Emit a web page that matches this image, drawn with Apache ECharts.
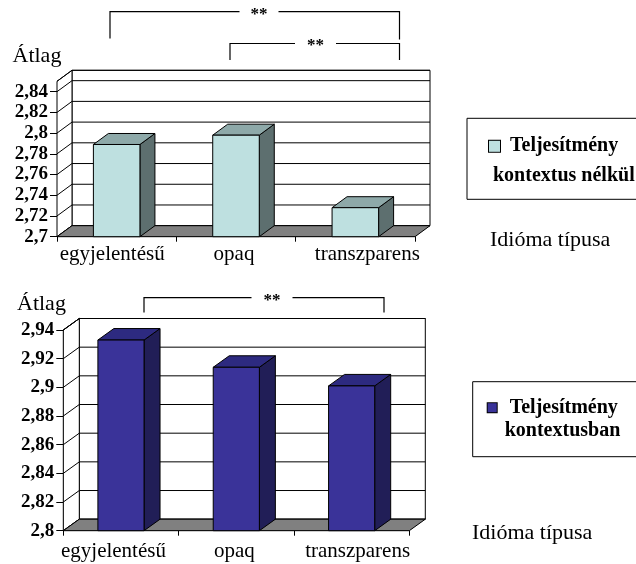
<!DOCTYPE html>
<html>
<head>
<meta charset="utf-8">
<script src="https://cdn.jsdelivr.net/npm/echarts@6/dist/echarts.min.js"></script>
<style>
  html, body { margin: 0; padding: 0; background: #fff; }
  #chart { width: 636px; height: 564px; }
</style>
</head>
<body>
<div id="chart"></div>
<script>
// ---- data ----
const categories = ['egyjelentésű', 'opaq', 'transzparens'];
const withoutContext = [2.789, 2.798, 2.728];
const inContext = [2.933, 2.914, 2.901];
const topTicks = [2.7, 2.72, 2.74, 2.76, 2.78, 2.8, 2.82, 2.84];
const bottomTicks = [2.8, 2.82, 2.84, 2.86, 2.88, 2.9, 2.92, 2.94];
const topRange = [2.7, 2.85];
const bottomRange = [2.8, 2.94];
const seriesNames = ['Teljesítmény kontextus nélkül', 'Teljesítmény kontextusban'];
const valueTitle = 'Átlag';
const categoryTitle = 'Idióma típusa';
const significance = '**';

// ---- styling ----
const FONT = "'Liberation Serif', 'Times New Roman', 'DejaVu Serif', serif";
const panels = [
  {
    grid: { left: 57, top: 81.3, width: 358, height: 155.4 },
    depth: [15, -11], range: topRange, ticks: topTicks, values: withoutContext,
    name: seriesNames[0], barRatio: 0.39, catMargin: 7, labelShift: [-4.5, -2, 12],
    colors: { front: '#BEE0E0', top: '#8EA9A9', side: '#5D6F6F' },
    legend: { left: 467, top: 118.3, padding: [13, 30, 8, 17], lineHeight: 30,
              marker: 11, gap: 10, indent: 4 }
  },
  {
    grid: { left: 63.3, top: 330, width: 346, height: 200.7 },
    depth: [16, -11.5], range: bottomRange, ticks: bottomTicks, values: inContext,
    name: seriesNames[1], barRatio: 0.40, catMargin: 10, labelShift: [-7.5, -2, 6],
    colors: { front: '#3A3399', top: '#2D2A80', side: '#211E57' },
    legend: { left: 472.7, top: 381.7, padding: [14.5, 30, 14.5, 10], lineHeight: 23,
              marker: 9, gap: 13, indent: 17 }
  }
];

const LINE = { stroke: '#000', lineWidth: 1 };

// back wall and left side wall
function wallsItem(p) {
  const [dx, dy] = p.depth;
  return function (params, api) {
    const cs = params.coordSys;
    const L = cs.x, R = cs.x + cs.width;
    const y0 = api.coord([0, p.range[0]])[1];
    const y1 = api.coord([0, p.range[1]])[1];
    return {
      type: 'group',
      children: [
        { type: 'polygon', shape: { points: [[L + dx, y1 + dy], [R + dx, y1 + dy], [R + dx, y0 + dy], [L + dx, y0 + dy]] },
          style: Object.assign({ fill: '#fff' }, LINE) },
        { type: 'polygon', shape: { points: [[L, y1], [L + dx, y1 + dy], [L + dx, y0 + dy], [L, y0]] },
          style: Object.assign({ fill: '#fff' }, LINE) }
      ]
    };
  };
}

// one gridline per tick: across the back wall plus the diagonal on the side wall
function gridLineItem(p) {
  const [dx, dy] = p.depth;
  return function (params, api) {
    const cs = params.coordSys;
    const L = cs.x, R = cs.x + cs.width;
    const y = api.coord([0, api.value(1)])[1];
    return {
      type: 'group',
      children: [
        { type: 'line', shape: { x1: L + dx, y1: y + dy, x2: R + dx, y2: y + dy }, style: LINE },
        { type: 'line', shape: { x1: L, y1: y, x2: L + dx, y2: y + dy }, style: LINE }
      ]
    };
  };
}

function floorItem(p) {
  const [dx, dy] = p.depth;
  return function (params, api) {
    const cs = params.coordSys;
    const L = cs.x, R = cs.x + cs.width;
    const y0 = api.coord([0, p.range[0]])[1];
    return {
      type: 'polygon',
      shape: { points: [[L, y0], [R, y0], [R + dx, y0 + dy], [L + dx, y0 + dy]] },
      style: Object.assign({ fill: '#808080' }, LINE)
    };
  };
}

// 3D column: side face, top face, front face
function barItem(p) {
  const [dx, dy] = p.depth;
  return function (params, api) {
    const idx = api.value(0);
    const top = api.coord([idx, api.value(1)]);
    const base = api.coord([idx, p.range[0]]);
    const w = api.size([1, 0])[0] * p.barRatio;
    const x0 = top[0] - w / 2, x1 = top[0] + w / 2;
    const yt = top[1], yb = base[1];
    return {
      type: 'group',
      children: [
        { type: 'polygon', shape: { points: [[x1, yt], [x1 + dx, yt + dy], [x1 + dx, yb + dy], [x1, yb]] },
          style: Object.assign({ fill: p.colors.side }, LINE) },
        { type: 'polygon', shape: { points: [[x0, yt], [x1, yt], [x1 + dx, yt + dy], [x0 + dx, yt + dy]] },
          style: Object.assign({ fill: p.colors.top }, LINE) },
        { type: 'rect', shape: { x: x0, y: yt, width: w, height: yb - yt },
          style: Object.assign({ fill: p.colors.front }, LINE) }
      ]
    };
  };
}

const fmt = v => String(v).replace('.', ',');

function categoryRich(p) {
  const rich = {};
  p.labelShift.forEach((s, k) => {
    rich['c' + k] = { fontFamily: FONT, fontSize: 21, color: '#000',
                      padding: s < 0 ? [0, -2 * s, 0, 0] : [0, 0, 0, 2 * s] };
  });
  return rich;
}

const option = {
  animation: false,
  backgroundColor: '#fff',
  textStyle: { fontFamily: FONT },
  grid: panels.map(p => Object.assign({ containLabel: false }, p.grid)),
  xAxis: panels.map((p, i) => ({
    type: 'category', gridIndex: i, data: categories,
    axisLine: { show: true, lineStyle: { color: '#000', width: 1 } },
    axisTick: { show: true, length: 5, lineStyle: { color: '#000' } },
    axisLabel: { color: '#000', fontFamily: FONT, fontSize: 21, margin: p.catMargin,
                 interval: 0, hideOverlap: false,
                 formatter: (v, k) => '{c' + k + '|' + v + '}', rich: categoryRich(p) },
    splitLine: { show: false }
  })),
  yAxis: panels.map((p, i) => ({
    type: 'value', gridIndex: i, min: p.range[0], max: p.range[1],
    axisLine: { show: true, lineStyle: { color: '#000', width: 1 } },
    axisTick: { show: true, length: 7, customValues: p.ticks, lineStyle: { color: '#000' } },
    axisLabel: { customValues: p.ticks, formatter: fmt, color: '#000', fontFamily: FONT,
                 fontSize: 19, fontWeight: 'bold', margin: 9, hideOverlap: false },
    splitLine: { show: false }
  })),
  legend: panels.map(p => {
    const L = p.legend;
    const txt = { fontFamily: FONT, fontSize: 20, fontWeight: 'bold', color: '#000', lineHeight: L.lineHeight };
    return {
      data: [p.name], left: L.left, top: L.top, orient: 'vertical',
      icon: 'rect', itemWidth: 0, itemHeight: 0, itemGap: 0,
      borderColor: '#000', borderWidth: 1, padding: L.padding,
      backgroundColor: '#fff', selectedMode: false,
      formatter: name => {
        const words = name.split(' ');
        return '{m|}{a|' + words[0] + '}\n{b|' + words.slice(1).join(' ') + '}';
      },
      textStyle: Object.assign({}, txt, {
        rich: {
          m: { width: L.marker, height: L.marker, backgroundColor: p.colors.front,
               borderColor: '#000', borderWidth: 1 },
          a: Object.assign({ padding: [0, 0, 0, L.gap] }, txt),
          b: Object.assign({ padding: [0, 0, 0, L.indent] }, txt)
        }
      })
    };
  }),
  series: [],
  graphic: []
};

panels.forEach((p, i) => {
  const axes = { xAxisIndex: i, yAxisIndex: i, coordinateSystem: 'cartesian2d', silent: true };
  option.series.push(
    Object.assign({ type: 'custom', name: 'wall' + i, z: 1, renderItem: wallsItem(p), data: [[0, p.range[1]]] }, axes),
    Object.assign({ type: 'custom', name: 'grid' + i, z: 2, renderItem: gridLineItem(p),
                    data: p.ticks.concat([p.range[1]]).map(v => [0, v]) }, axes),
    Object.assign({ type: 'custom', name: 'floor' + i, z: 3, renderItem: floorItem(p), data: [[0, p.range[0]]] }, axes),
    Object.assign({ type: 'custom', name: p.name, z: 4, renderItem: barItem(p),
                    itemStyle: { color: p.colors.front },
                    data: p.values.map((v, k) => [k, v]) }, axes)
  );
});

// axis titles
const titleStyle = { fontFamily: FONT, fontSize: 22, fill: '#000', textVerticalAlign: 'middle' };
option.graphic.push(
  { type: 'text', x: 12.5, y: 56.7, style: Object.assign({ text: valueTitle }, titleStyle) },
  { type: 'text', x: 17, y: 304, style: Object.assign({ text: valueTitle }, titleStyle) },
  { type: 'text', x: 490, y: 240, style: Object.assign({ text: categoryTitle }, titleStyle) },
  { type: 'text', x: 472, y: 533.3, style: Object.assign({ text: categoryTitle }, titleStyle) }
);

// significance brackets
const bracketLine = { stroke: '#000', lineWidth: 1.2, fill: null };
const starStyle = { fontFamily: FONT, fontSize: 17, fontWeight: 'bold', fill: '#000',
                    textAlign: 'center', textVerticalAlign: 'middle' };
function bracket(xl, xr, y, legL, legR, gapL, gapR) {
  option.graphic.push(
    { type: 'polyline', shape: { points: [[xl, legL], [xl, y], [gapL, y]] }, style: bracketLine },
    { type: 'polyline', shape: { points: [[gapR, y], [xr, y], [xr, legR]] }, style: bracketLine },
    { type: 'text', x: (gapL + gapR) / 2, y: y + 2.5, style: Object.assign({ text: significance }, starStyle) }
  );
}
bracket(110, 399.5, 11.7, 38.5, 39.5, 239.5, 278.5);
bracket(230, 399.5, 43.5, 60, 60, 295, 336);
bracket(144, 384, 297.7, 312.5, 312.5, 251.5, 292.5);

const chart = echarts.init(document.getElementById('chart'), null, { renderer: 'canvas' });
chart.setOption(option);
</script>
</body>
</html>
